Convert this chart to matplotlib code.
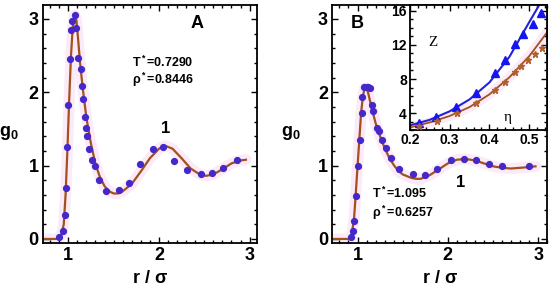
import numpy as np
import matplotlib
matplotlib.use("Agg")
import matplotlib.pyplot as plt
from matplotlib.ticker import MultipleLocator

plt.rcParams['font.family'] = ['Liberation Sans', 'DejaVu Sans']
plt.rcParams['font.weight'] = 'bold'
plt.rcParams['mathtext.fontset'] = 'custom'
plt.rcParams['mathtext.rm'] = 'Liberation Sans:bold'
plt.rcParams['mathtext.it'] = 'Liberation Sans:bold'
plt.rcParams['mathtext.bf'] = 'Liberation Sans:bold'

# panel A : simulation points and theory curve
a_pts_r = [0.90, 0.94, 0.96, 0.97, 0.99, 1.00, 1.02, 1.035, 1.04, 1.07, 1.085, 1.105,
           1.14, 1.15, 1.165, 1.18, 1.195, 1.21, 1.23, 1.26, 1.30, 1.34, 1.42, 1.56,
           1.67, 1.79, 1.93, 2.05, 2.17, 2.31, 2.46, 2.58, 2.71, 2.86]
a_pts_g = [0.02, 0.11, 0.33, 0.70, 1.25, 1.82, 2.45, 2.85, 2.97, 3.05, 2.88, 2.47,
           2.31, 2.08, 1.91, 1.66, 1.51, 1.41, 1.22, 1.07, 1.00, 0.81, 0.66, 0.67,
           0.76, 1.02, 1.23, 1.25, 1.06, 0.94, 0.88, 0.90, 0.97, 1.08]
a_line_r = [0.72, 0.88, 0.92, 0.95, 0.97, 0.99, 1.01, 1.03, 1.05, 1.07, 1.09, 1.11,
            1.13, 1.16, 1.20, 1.25, 1.30, 1.35, 1.40, 1.45, 1.50, 1.55, 1.60, 1.70,
            1.80, 1.90, 2.00, 2.07, 2.15, 2.25, 2.35, 2.45, 2.52, 2.60, 2.70, 2.80,
            2.90, 2.96]
a_line_g = [0.0, 0.0, 0.03, 0.2, 0.6, 1.2, 1.9, 2.5, 2.9, 3.05, 2.98, 2.7,
            2.4, 2.05, 1.65, 1.3, 1.02, 0.84, 0.72, 0.65, 0.62, 0.62, 0.65, 0.75,
            0.92, 1.1, 1.23, 1.27, 1.23, 1.1, 0.96, 0.88, 0.86, 0.88, 0.95, 1.03,
            1.07, 1.08]

# panel B
b_pts_r = [0.93, 0.945, 0.96, 0.98, 1.01, 1.025, 1.05, 1.055, 1.07, 1.10, 1.12, 1.14,
           1.155, 1.17, 1.22, 1.24, 1.27, 1.31, 1.37, 1.46, 1.61, 1.75, 1.88, 2.04,
           2.18, 2.31, 2.46, 2.60, 2.90]
b_pts_g = [0.03, 0.11, 0.25, 0.58, 0.99, 1.35, 1.72, 1.93, 2.07, 2.07, 2.07, 2.06,
           1.82, 1.75, 1.51, 1.47, 1.35, 1.24, 1.10, 0.95, 0.89, 0.87, 0.96, 1.07,
           1.09, 1.07, 1.02, 1.00, 1.00]
b_line_r = [0.72, 0.90, 0.93, 0.96, 0.98, 1.00, 1.02, 1.04, 1.06, 1.08, 1.10, 1.12,
            1.15, 1.20, 1.25, 1.30, 1.35, 1.40, 1.45, 1.50, 1.60, 1.65, 1.70, 1.80,
            1.90, 2.00, 2.10, 2.20, 2.30, 2.40, 2.50, 2.60, 2.70, 2.80, 2.90, 2.97]
b_line_g = [0.0, 0.0, 0.03, 0.25, 0.6, 0.98, 1.35, 1.72, 1.95, 2.06, 2.06, 1.98,
            1.82, 1.58, 1.4, 1.24, 1.11, 1.01, 0.93, 0.88, 0.83, 0.82, 0.82, 0.87,
            0.95, 1.03, 1.08, 1.09, 1.07, 1.03, 0.99, 0.97, 0.96, 0.97, 0.98, 0.99]

# inset : compressibility factor Z vs packing fraction
eta_tri = [0.223, 0.266, 0.316, 0.367, 0.413, 0.440, 0.463, 0.484, 0.508, 0.529]
z_tri = [2.8, 3.5, 4.73, 6.3, 8.7, 10.26, 12.1, 13.3, 14.5, 15.8]
eta_tri_line = [0.2, 0.25, 0.3, 0.35, 0.4, 0.45, 0.5, 0.525]
z_tri_line = [2.55, 3.2, 4.2, 5.6, 7.6, 10.6, 14.7, 16.7]
eta_star = [0.223, 0.269, 0.318, 0.367, 0.415, 0.440, 0.463, 0.480, 0.496, 0.514, 0.532]
z_star = [2.48, 3.07, 3.97, 5.2, 6.7, 7.65, 8.8, 9.5, 10.25, 10.9, 11.6]
eta_star_line = [0.2, 0.25, 0.3, 0.35, 0.4, 0.45, 0.5, 0.545]
z_star_line = [2.3, 2.9, 3.65, 4.7, 6.2, 8.2, 10.7, 13.5]

dot_col = '#4528c8'
line_col = '#a4501c'
halo_col = '#f8d2ee'


def style(ax, xmin, xmax, ymin, ymax, xmaj, xmin_step, ymaj, ymin_step, size):
    ax.set_xlim(xmin, xmax)
    ax.set_ylim(ymin, ymax)
    ax.xaxis.set_major_locator(MultipleLocator(xmaj))
    ax.xaxis.set_minor_locator(MultipleLocator(xmin_step))
    ax.yaxis.set_major_locator(MultipleLocator(ymaj))
    ax.yaxis.set_minor_locator(MultipleLocator(ymin_step))
    ax.tick_params(which='both', direction='in', top=True, right=True, width=1)
    ax.tick_params(which='major', length=4, labelsize=size, pad=3)
    ax.tick_params(which='minor', length=2)
    for s in ax.spines.values():
        s.set_linewidth(1.3)


fig = plt.figure(figsize=(5.5, 2.91), dpi=100)
axA = fig.add_axes([0.078, 0.165, 0.389, 0.818])
axB = fig.add_axes([0.604, 0.165, 0.391, 0.818])
axI = fig.add_axes([0.745, 0.553, 0.25, 0.43])

for ax, lr, lg, pr, pg, xr in [(axA, a_line_r, a_line_g, a_pts_r, a_pts_g, 3.08),
                               (axB, b_line_r, b_line_g, b_pts_r, b_pts_g, 3.1)]:
    ax.plot(lr, lg, color=halo_col, lw=8, alpha=0.45, solid_capstyle='round', zorder=1)
    ax.plot(lr, lg, color=line_col, lw=1.6, zorder=2)
    ax.plot(pr, pg, 'o', color=dot_col, ms=4.2, zorder=3)
    style(ax, 0.72, xr, -0.055, 3.19, 1, 0.1, 1, 0.2, 13)
    ax.set_xlabel('r / σ', fontsize=13, fontweight='bold', labelpad=4)
    ax.text(-0.16 if ax is axA else -0.19, 0.46, 'g$_0$', transform=ax.transAxes,
            fontsize=13, ha='center', va='center')

axA.text(0.72, 0.92, 'A', transform=axA.transAxes, fontsize=13, ha='center', va='center')
axA.text(0.415, 0.76, 'T$^*$=0.7290', transform=axA.transAxes, fontsize=9, va='center')
axA.text(0.415, 0.685, 'ρ$^*$=0.8446', transform=axA.transAxes, fontsize=9, va='center')
axA.text(0.575, 0.483, '1', transform=axA.transAxes, fontsize=12, ha='center', va='center')

axB.text(0.116, 0.924, 'B', transform=axB.transAxes, fontsize=13, ha='center', va='center')
axB.text(0.186, 0.21, 'T$^*$=1.095', transform=axB.transAxes, fontsize=9, va='center')
axB.text(0.186, 0.126, 'ρ$^*$=0.6257', transform=axB.transAxes, fontsize=9, va='center')
axB.text(0.595, 0.256, '1', transform=axB.transAxes, fontsize=12, ha='center', va='center')

axI.plot(eta_star_line, z_star_line, color=halo_col, lw=7, alpha=0.45, zorder=1)
axI.plot(eta_tri_line, z_tri_line, color='#2222dd', lw=1.5, zorder=2)
axI.plot(eta_star_line, z_star_line, color=line_col, lw=1.3, zorder=2)
axI.plot(eta_tri, z_tri, '^', color='#1515f0', ms=6, zorder=3)
axI.plot(eta_star, z_star, '*', color='#b0602a', ms=5, zorder=3)
style(axI, 0.2, 0.545, 2.0, 16.7, 0.1, 0.02, 4, 1, 10)
axI.tick_params(which='major', pad=2)
axI.text(0.17, 0.70, 'Z', transform=axI.transAxes, fontsize=11, fontweight='normal',
         family='Liberation Serif', ha='center', va='center')
axI.text(0.71, 0.1, 'η', transform=axI.transAxes, fontsize=11, fontweight='normal',
         family='Liberation Serif', ha='center', va='center')

fig.savefig('out.png', dpi=100)
